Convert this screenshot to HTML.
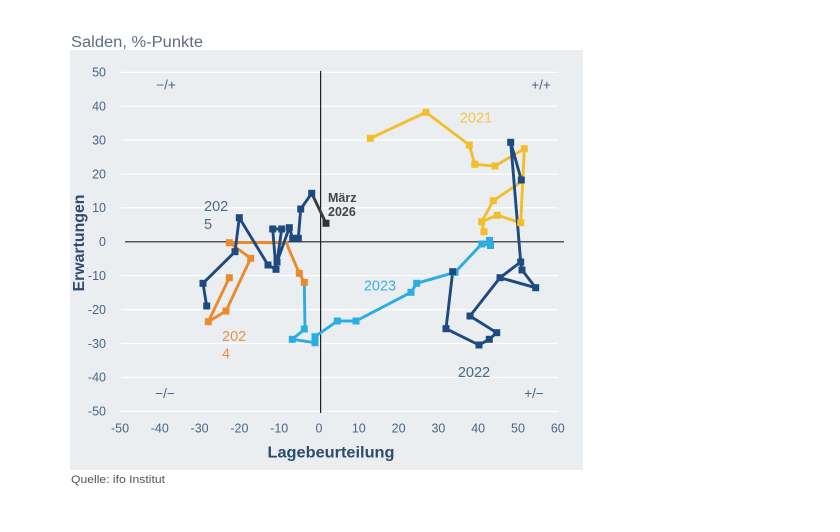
<!DOCTYPE html>
<html><head><meta charset="utf-8"><style>
html,body{margin:0;padding:0;background:#fff;}
svg{display:block;font-family:"Liberation Sans",Arial,sans-serif;}
</style></head><body>
<svg width="840" height="532" viewBox="0 0 840 532" xmlns="http://www.w3.org/2000/svg">
<rect x="0" y="0" width="840" height="532" fill="#ffffff"/>
<text x="71" y="47" font-size="15.5" fill="#5c6d80" textLength="132" lengthAdjust="spacingAndGlyphs">Salden, %-Punkte</text>
<rect x="70" y="50" width="513" height="420" fill="#ebeef1"/>
<g stroke="#ffffff" stroke-width="1.2">
<line x1="121" y1="72.3" x2="558" y2="72.3"/>
<line x1="121" y1="106.2" x2="558" y2="106.2"/>
<line x1="121" y1="140.1" x2="558" y2="140.1"/>
<line x1="121" y1="174" x2="558" y2="174"/>
<line x1="121" y1="207.9" x2="558" y2="207.9"/>
<line x1="121" y1="275.7" x2="558" y2="275.7"/>
<line x1="121" y1="309.6" x2="558" y2="309.6"/>
<line x1="121" y1="343.5" x2="558" y2="343.5"/>
<line x1="121" y1="377.4" x2="558" y2="377.4"/>
<line x1="121" y1="411.3" x2="558" y2="411.3"/>
</g>
<line x1="125" y1="241.8" x2="564" y2="241.8" stroke="#222" stroke-width="1.2"/>
<line x1="320.6" y1="71" x2="320.6" y2="413" stroke="#222" stroke-width="1.2"/>
<g font-size="12.5" fill="#4b6584" text-anchor="end">
<text x="106" y="76.6">50</text>
<text x="106" y="110.5">40</text>
<text x="106" y="144.4">30</text>
<text x="106" y="178.3">20</text>
<text x="106" y="212.2">10</text>
<text x="106" y="246.1">0</text>
<text x="106" y="280">-10</text>
<text x="106" y="313.9">-20</text>
<text x="106" y="347.8">-30</text>
<text x="106" y="381.7">-40</text>
<text x="106" y="415.6">-50</text>
</g>
<g font-size="12.5" fill="#4b6584" text-anchor="middle">
<text x="120" y="432.5">-50</text>
<text x="159.8" y="432.5">-40</text>
<text x="199.6" y="432.5">-30</text>
<text x="239.4" y="432.5">-20</text>
<text x="279.2" y="432.5">-10</text>
<text x="319" y="432.5">0</text>
<text x="358.8" y="432.5">10</text>
<text x="398.6" y="432.5">20</text>
<text x="438.4" y="432.5">30</text>
<text x="478.2" y="432.5">40</text>
<text x="518" y="432.5">50</text>
<text x="557.8" y="432.5">60</text>
</g>
<text x="331" y="457.5" font-size="16" font-weight="bold" fill="#2e4a6d" text-anchor="middle" textLength="127" lengthAdjust="spacingAndGlyphs">Lagebeurteilung</text>
<text transform="translate(84,243) rotate(-90)" x="0" y="0" font-size="15.5" font-weight="bold" fill="#2e4a6d" text-anchor="middle" textLength="97" lengthAdjust="spacingAndGlyphs">Erwartungen</text>
<g font-size="13.5" fill="#4b6584" text-anchor="middle">
<text x="166" y="89.5">−/+</text>
<text x="541" y="89.5">+/+</text>
<text x="165" y="398">−/−</text>
<text x="534" y="398">+/−</text>
</g>
<text x="476" y="122.5" font-size="14.5" fill="#f1c84a" text-anchor="middle">2021</text>
<text x="474" y="377" font-size="14.5" fill="#4b6584" text-anchor="middle">2022</text>
<text x="380" y="290.5" font-size="14.5" fill="#3cb1dd" text-anchor="middle">2023</text>
<text x="204" y="211" font-size="14.5" fill="#4e6a8a">202</text>
<text x="204" y="229" font-size="14.5" fill="#4e6a8a">5</text>
<text x="222" y="341" font-size="14.5" fill="#e8914a">202</text>
<text x="222" y="358.5" font-size="14.5" fill="#e8914a">4</text>
<text x="328" y="202" font-size="12.5" font-weight="bold" fill="#444">März</text>
<text x="328" y="216" font-size="12.5" font-weight="bold" fill="#444">2026</text>
<text x="71" y="483" font-size="11" fill="#555" textLength="94" lengthAdjust="spacingAndGlyphs">Quelle: ifo Institut</text>

<g fill="none" stroke-width="2.9" stroke-linejoin="round">
<polyline stroke="#f3be2b" points="370.3,138.3 426,112.3 469.3,145 474.7,164.3 495,166 524.3,148.7 520.7,222.7 497.3,215.3 481.7,221.7 484,231.7"/>
<polyline stroke="#f3be2b" points="481.7,221.7 493.3,200.7 521,182"/>
<polyline stroke="#2badE2" points="304.3,282.3 305,329 292.3,339.3 315,342.7 315,336.7 337.3,321 356,321 411,292.3 416.7,283.3 455,272.3 481.7,244 490.5,245.5 489.5,240.5"/>
<polyline stroke="#e98a2e" points="304.3,282.3 299.3,273.3 288,247 286.7,242.5 229.3,242.7 250.7,258.3 226,311 208.3,321.7 229.3,277.7"/>
<polyline stroke="#1f4a80" points="521.3,180 510.7,142.3 520.7,262 522,270 535.7,287.7 500,277.7 520.7,262"/>
<polyline stroke="#1f4a80" points="500,277.7 470,316 496.7,332.7 489.3,339.3 479,345 446,328.7 452.7,271.7"/>
<polyline stroke="#1f4a80" points="206.7,306 203,283.3 235,251.7 239.3,217.7 268,265 276,269.3 272.7,229 281.7,229 277,262 289.3,227.7 292.7,238.3 298.3,238.3 300.7,209 311.7,193.3"/>
<polyline stroke="#3a3a3a" points="311.7,193.3 326,223.3"/>
</g>
<g fill="#f3be2b">
<rect x="366.8" y="134.8" width="7" height="7"/><rect x="422.5" y="108.8" width="7" height="7"/>
<rect x="465.8" y="141.5" width="7" height="7"/><rect x="471.2" y="160.8" width="7" height="7"/>
<rect x="491.5" y="162.5" width="7" height="7"/><rect x="520.8" y="145.2" width="7" height="7"/>
<rect x="517.2" y="219.2" width="7" height="7"/><rect x="493.8" y="211.8" width="7" height="7"/>
<rect x="478.2" y="218.2" width="7" height="7"/><rect x="480.5" y="228.2" width="7" height="7"/>
<rect x="489.8" y="197.2" width="7" height="7"/>
</g>
<g fill="#2badE2">
<rect x="300.8" y="325.5" width="7" height="7"/><rect x="288.8" y="335.8" width="7" height="7"/>
<rect x="311.5" y="339.2" width="7" height="7"/><rect x="311.5" y="333.2" width="7" height="7"/>
<rect x="333.8" y="317.5" width="7" height="7"/><rect x="352.5" y="317.5" width="7" height="7"/>
<rect x="407.5" y="288.8" width="7" height="7"/><rect x="413.2" y="279.8" width="7" height="7"/>
<rect x="451.5" y="268.8" width="7" height="7"/><rect x="478.2" y="240.5" width="7" height="7"/>
<rect x="487" y="242" width="7" height="7"/><rect x="486" y="237" width="7" height="7"/>
</g>
<g fill="#e98a2e">
<rect x="300.8" y="278.8" width="7" height="7"/><rect x="295.8" y="269.8" width="7" height="7"/>
<rect x="225.8" y="239.2" width="7" height="7"/><rect x="247.2" y="254.8" width="7" height="7"/>
<rect x="222.5" y="307.5" width="7" height="7"/><rect x="204.8" y="318.2" width="7" height="7"/>
<rect x="225.8" y="274.2" width="7" height="7"/>
</g>
<g fill="#1f4a80">
<rect x="517.8" y="176.5" width="7" height="7"/><rect x="507.2" y="138.8" width="7" height="7"/>
<rect x="517.2" y="258.5" width="7" height="7"/><rect x="518.5" y="266.5" width="7" height="7"/>
<rect x="532.2" y="284.2" width="7" height="7"/><rect x="496.5" y="274.2" width="7" height="7"/>
<rect x="466.5" y="312.5" width="7" height="7"/><rect x="493.2" y="329.2" width="7" height="7"/>
<rect x="485.8" y="335.8" width="7" height="7"/><rect x="475.5" y="341.5" width="7" height="7"/>
<rect x="442.5" y="325.2" width="7" height="7"/><rect x="449.2" y="268.2" width="7" height="7"/>
<rect x="203.2" y="302.5" width="7" height="7"/><rect x="199.5" y="279.8" width="7" height="7"/>
<rect x="231.5" y="248.2" width="7" height="7"/><rect x="235.8" y="214.2" width="7" height="7"/>
<rect x="264.5" y="261.5" width="7" height="7"/><rect x="272.5" y="265.8" width="7" height="7"/>
<rect x="269.2" y="225.5" width="7" height="7"/><rect x="278.2" y="225.5" width="7" height="7"/>
<rect x="273.5" y="258.5" width="7" height="7"/><rect x="285.8" y="224.2" width="7" height="7"/>
<rect x="289.2" y="234.8" width="7" height="7"/><rect x="294.8" y="234.8" width="7" height="7"/>
<rect x="297.2" y="205.5" width="7" height="7"/><rect x="308.2" y="189.8" width="7" height="7"/>
</g>
<rect x="322.5" y="219.8" width="7" height="7" fill="#333"/>
</svg>
</body></html>
